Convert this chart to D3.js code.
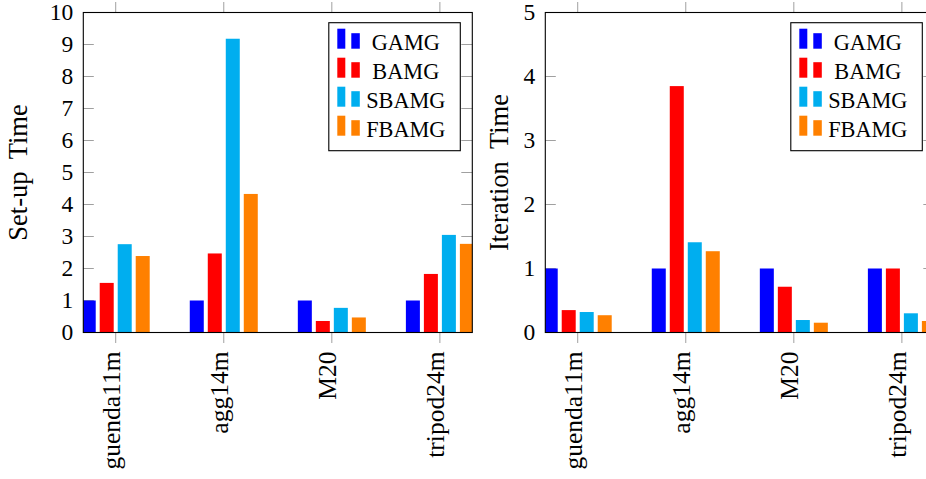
<!DOCTYPE html>
<html>
<head>
<meta charset="utf-8">
<script src="https://cdn.jsdelivr.net/npm/d3@7"></script>
<style>
  body { margin: 0; background: #fff; }
  svg { display: block; font-family: "Liberation Serif", "DejaVu Serif", serif; }
</style>
</head>
<body>
<script>
// Data
var categories = ["guenda11m", "agg14m", "M20", "tripod24m"];
var seriesNames = ["GAMG", "BAMG", "SBAMG", "FBAMG"];
var seriesColors = ["#0000ff", "#ff0000", "#00aeef", "#ff8000"];

var setupGAMG = [1.00, 1.00, 1.00, 1.00];
var setupBAMG = [1.55, 2.47, 0.36, 1.83];
var setupSBAMG = [2.76, 9.18, 0.77, 3.05];
var setupFBAMG = [2.39, 4.33, 0.47, 2.77];

var iterGAMG = [1.00, 1.00, 1.00, 1.00];
var iterBAMG = [0.35, 3.85, 0.715, 1.00];
var iterSBAMG = [0.32, 1.41, 0.195, 0.30];
var iterFBAMG = [0.27, 1.27, 0.153, 0.18];

var setupTicks = [0, 1, 2, 3, 4, 5, 6, 7, 8, 9, 10];
var iterTicks = [0, 1, 2, 3, 4, 5];

var svg = d3.select("body").append("svg")
    .attr("width", 926)
    .attr("height", 479);

var plotTop = 12.5, plotBottom = 332.5, panelWidth = 389;

// draws one pgfplots-like ybar panel
function drawPanel(id, left, yMax, ticks, series, ylabel, labelX) {
    var x = d3.scaleLinear().domain([-0.3, 3.3]).range([left, left + panelWidth]);
    var y = d3.scaleLinear().domain([0, yMax]).range([plotBottom, plotTop]);
    var offset = d3.scaleBand().domain(seriesNames).range([-36, 36])
        .paddingInner(4 / 18).paddingOuter(2 / 18);

    var g = svg.append("g");

    svg.append("clipPath").attr("id", "clip-" + id)
        .append("rect")
        .attr("x", left).attr("y", plotTop)
        .attr("width", panelWidth).attr("height", plotBottom - plotTop);

    // tick marks (grey)
    var tickColor = "#a0a0a0";
    g.selectAll(".ytick-l").data(ticks).enter().append("line")
        .attr("x1", left).attr("x2", left + 10.5)
        .attr("y1", function(d) { return y(d); }).attr("y2", function(d) { return y(d); })
        .attr("stroke", tickColor).attr("stroke-width", 1);
    g.selectAll(".ytick-r").data(ticks).enter().append("line")
        .attr("x1", left + panelWidth - 11).attr("x2", left + panelWidth)
        .attr("y1", function(d) { return y(d); }).attr("y2", function(d) { return y(d); })
        .attr("stroke", tickColor).attr("stroke-width", 1);
    g.selectAll(".xtick-t").data(categories).enter().append("line")
        .attr("x1", function(d, i) { return x(i); }).attr("x2", function(d, i) { return x(i); })
        .attr("y1", plotTop - 10.5).attr("y2", plotTop)
        .attr("stroke", tickColor).attr("stroke-width", 1);
    g.selectAll(".xtick-b").data(categories).enter().append("line")
        .attr("x1", function(d, i) { return x(i); }).attr("x2", function(d, i) { return x(i); })
        .attr("y1", plotBottom).attr("y2", plotBottom + 10.5)
        .attr("stroke", tickColor).attr("stroke-width", 1);

    // bars
    var bars = g.append("g").attr("clip-path", "url(#clip-" + id + ")");
    series.forEach(function(values, s) {
        bars.selectAll(".bar" + s).data(values).enter().append("rect")
            .attr("x", function(d, i) { return x(i) + offset(seriesNames[s]); })
            .attr("width", offset.bandwidth())
            .attr("y", function(d) { return y(d); })
            .attr("height", function(d) { return y(0) - y(d); })
            .attr("fill", seriesColors[s]);
    });

    // axis box
    g.append("rect")
        .attr("x", left).attr("y", plotTop)
        .attr("width", panelWidth).attr("height", plotBottom - plotTop)
        .attr("fill", "none").attr("stroke", "#000").attr("stroke-width", 1.1);

    // y tick labels
    g.selectAll(".ylab").data(ticks).enter().append("text")
        .attr("x", left - 10)
        .attr("y", function(d) { return y(d); })
        .attr("dy", "0.33em")
        .attr("text-anchor", "end")
        .style("font-size", "23.5px")
        .text(function(d) { return d; });

    // category labels, rotated
    g.selectAll(".xlab").data(categories).enter().append("text")
        .attr("transform", function(d, i) { return "translate(" + (x(i) + 4) + "," + 351.5 + ") rotate(-90)"; })
        .attr("text-anchor", "end")
        .style("font-size", "25.5px")
        .text(function(d) { return d; });

    // y axis label
    g.append("text")
        .attr("transform", "translate(" + labelX + "," + ((plotTop + plotBottom) / 2) + ") rotate(-90)")
        .attr("text-anchor", "middle")
        .style("font-size", "26.5px")
        .style("word-spacing", "6px")
        .text(ylabel);

    // legend
    var lx = left + panelWidth - 143.5, ly = 22.7;
    var legend = g.append("g");
    legend.append("rect")
        .attr("x", lx).attr("y", ly).attr("width", 131.5).attr("height", 128)
        .attr("fill", "#fff").attr("stroke", "#000").attr("stroke-width", 1.1);
    seriesNames.forEach(function(name, s) {
        var base = ly + 26 + s * 29;
        legend.append("rect")
            .attr("x", lx + 8.5).attr("y", base - 20).attr("width", 8).attr("height", 20)
            .attr("fill", seriesColors[s]);
        legend.append("rect")
            .attr("x", lx + 22.5).attr("y", base - 15.5).attr("width", 8.5).attr("height", 15.5)
            .attr("fill", seriesColors[s]);
        legend.append("text")
            .attr("x", lx + 77).attr("y", base + 1.5)
            .attr("text-anchor", "middle")
            .style("font-size", "22.3px")
            .text(name);
    });
}

drawPanel("setup", 83.3, 10, setupTicks,
    [setupGAMG, setupBAMG, setupSBAMG, setupFBAMG], "Set-up Time", 26.5);
drawPanel("iter", 545.3, 5, iterTicks,
    [iterGAMG, iterBAMG, iterSBAMG, iterFBAMG], "Iteration Time", 508.3);
</script>
</body>
</html>
